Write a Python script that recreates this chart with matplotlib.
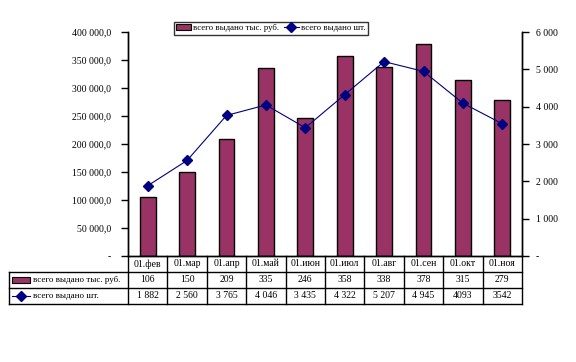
import matplotlib.pyplot as plt
from matplotlib.lines import Line2D
from matplotlib.patches import Rectangle
from matplotlib.ticker import FuncFormatter

plt.rcParams['font.family'] = ['Liberation Serif', 'DejaVu Serif']

# data
months = ['01.фев', '01.мар', '01.апр', '01.май', '01.июн',
          '01.июл', '01.авг', '01.сен', '01.окт', '01.ноя']
rub_k = [106, 150, 209, 335, 246, 358, 338, 378, 315, 279]
pcs = [1882, 2560, 3765, 4046, 3435, 4322, 5207, 4945, 4093, 3542]
pcs_labels = ['1 882', '2 560', '3 765', '4 046', '3 435',
              '4 322', '5 207', '4 945', '4093', '3542']
bar_name = 'всего выдано тыс. руб.'
line_name = 'всего выдано шт.'

bar_color = '#993366'
line_color = '#000080'
W, H = 576, 362

fig = plt.figure(figsize=(W / 100, H / 100), dpi=100)
ax = fig.add_axes([128 / W, 1 - 256 / H, 394 / W, 224 / H])
ax2 = ax.twinx()

x = list(range(len(months)))
ax.bar(x, [v * 1000 for v in rub_k], width=0.40, color=bar_color,
       edgecolor='black', linewidth=1, zorder=2)
ax2.plot(x, pcs, color=line_color, lw=0.8, marker='D', markersize=5.5, zorder=3)

ax.set_xlim(-0.5, len(months) - 0.5)
ax.set_ylim(0, 400000)
ax2.set_ylim(0, 6000)
ax.set_yticks(range(0, 400001, 50000))
ax2.set_yticks(range(0, 6001, 1000))


def left_fmt(v, pos):
    if v == 0:
        return '-'
    return f'{int(v):,}'.replace(',', ' ') + ',0'


def right_fmt(v, pos):
    if v == 0:
        return '-'
    return f'{int(v):,}'.replace(',', ' ')


ax.yaxis.set_major_formatter(FuncFormatter(left_fmt))
ax2.yaxis.set_major_formatter(FuncFormatter(right_fmt))
ax.tick_params(axis='y', direction='out', length=5, width=1, labelsize=7, pad=7)
ax2.tick_params(axis='y', direction='out', length=5, width=1, labelsize=7, pad=5)
ax.set_xticks([])
for a in (ax, ax2):
    a.spines['top'].set_visible(False)
    for s in ('left', 'right', 'bottom'):
        a.spines[s].set_linewidth(1)

# data table under the chart
tr = ax.get_xaxis_transform()
rh = 16 / 224
left_edge = (9 - 128) / 394
kw = dict(color='black', lw=1, clip_on=False)
for b in [i - 0.5 for i in range(len(months) + 1)]:
    ax.add_line(Line2D([b, b], [0, -3 * rh], transform=tr, **kw))
for k in (1, 2, 3):
    ax.add_line(Line2D([left_edge, 1], [-k * rh, -k * rh], transform=ax.transAxes, **kw))
ax.add_line(Line2D([left_edge, left_edge], [-rh, -3 * rh], transform=ax.transAxes, **kw))

for i, m in enumerate(months):
    ax.text(i, -0.5 * rh, m, transform=tr, ha='center', va='center', fontsize=7)
    ax.text(i, -1.5 * rh, str(rub_k[i]), transform=tr, ha='center', va='center', fontsize=7)
    ax.text(i, -2.5 * rh, pcs_labels[i], transform=tr, ha='center', va='center', fontsize=7)

# row keys
ta = ax.transAxes
kx0, kx1 = (12 - 128) / 394, (30 - 128) / 394
ax.add_patch(Rectangle((kx0, -1.5 * rh - 0.012), kx1 - kx0, 0.024, transform=ta,
                       facecolor=bar_color, edgecolor='black', lw=0.8, clip_on=False))
ax.add_line(Line2D([kx0, kx1], [-2.5 * rh, -2.5 * rh], transform=ta, color=line_color,
                   lw=0.8, clip_on=False))
ax.add_line(Line2D([(kx0 + kx1) / 2], [-2.5 * rh], transform=ta, color=line_color,
                   marker='D', markersize=5.5, clip_on=False))
tx = (33 - 128) / 394
ax.text(tx, -1.5 * rh, bar_name, transform=ta, ha='left', va='center', fontsize=6.5)
ax.text(tx, -2.5 * rh, line_name, transform=ta, ha='left', va='center', fontsize=6.5)

# legend
handles = [Rectangle((0, 0), 1, 1, facecolor=bar_color, edgecolor='black', lw=0.8),
           Line2D([], [], color=line_color, lw=0.8, marker='D', markersize=5.5)]
leg = fig.legend(handles, [bar_name, line_name], loc='upper left',
                 bbox_to_anchor=(174 / W, 1 - 22 / H), ncol=2, fontsize=6.3,
                 frameon=True, fancybox=False, borderpad=0.25, handlelength=1.7,
                 handletextpad=0.25, columnspacing=0.5, borderaxespad=0)
leg.get_frame().set_edgecolor('black')
leg.get_frame().set_linewidth(1)

fig.savefig('out.png', dpi=100)
